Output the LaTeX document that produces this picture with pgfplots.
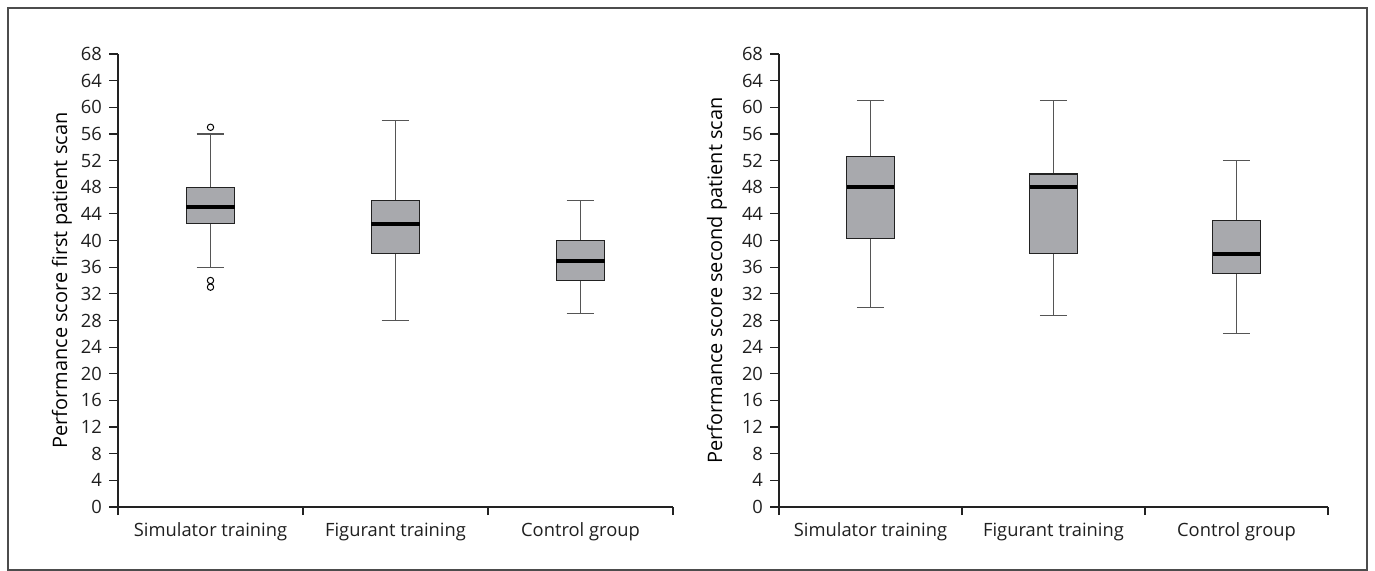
\documentclass[border=0pt]{standalone}
\usepackage{fontspec}
\setmainfont{Open Sans}
\usepackage{pgfplots}
\pgfplotsset{compat=1.18}
\usepgfplotslibrary{statistics}
\definecolor{boxgray}{HTML}{A8A9AD}
\definecolor{axgray}{HTML}{222222}
\definecolor{whgray}{HTML}{555555}
\pgfplotsset{
  mybox/.style={
    scale only axis,
    height=226.5bp,
    xmin=0.5, xmax=3.5, ymin=0, ymax=68,
    axis lines=left,
    axis line style={-, axgray, line width=0.6bp},
    tick align=outside,
    xtick={1,2,3},
    xticklabels={Simulator training, Figurant training, Control group},
    minor xtick={0.5,1.5,2.5,3.5},
    major x tick style={draw=none},
    minor x tick style={axgray, line width=0.6bp},
    minor tick length=4bp,
    ytick={0,4,...,68},
    y tick style={axgray, line width=0.6bp},
    major tick length=4.5bp,
    tick label style={font=\fontsize{9.2}{11}\selectfont, text=black!88},
    label style={font=\fontsize{9}{11}\selectfont, text=black!88},
    /pgf/number format/assume math mode=true,
    boxplot/draw direction=y,
    boxplot/box extend=0.26,
    boxplot/whisker extend=0.15,
    boxplot/every box/.style={draw=axgray, fill=boxgray, line width=0.6bp},
    boxplot/every whisker/.style={whgray, line width=0.6bp},
    boxplot/every median/.style={black, line width=2bp},
    clip=false,
  },
  outl/.style={mark=o, mark size=1.6bp, mark options={black, line width=0.5bp, fill=white}},
}
\begin{document}
\begin{tikzpicture}
\useasboundingbox (0,0) rectangle (687.5bp,285.5bp);
\draw[black!70, line width=0.6bp] (4bp,0.5bp) rectangle (683.5bp,281.5bp);
\begin{axis}[mybox, width=277.5bp, at={(59bp,32bp)}, anchor=south west,
  ylabel={Performance score first patient scan},
  every axis y label/.style={at={(axis description cs:-0.101,0.5)}, rotate=90, anchor=center}]
\addplot[outl, boxplot prepared={draw position=1, lower whisker=36, lower quartile=42.5, median=45, upper quartile=48, upper whisker=56}]
  table[row sep=\\, y index=0] {57\\ 34\\ 33\\};
\addplot[outl, boxplot prepared={draw position=2, lower whisker=28, lower quartile=38, median=42.5, upper quartile=46, upper whisker=58}]
  coordinates {};
\addplot[outl, boxplot prepared={draw position=3, lower whisker=29, lower quartile=34, median=37, upper quartile=40, upper whisker=46}]
  coordinates {};
\end{axis}
\begin{axis}[mybox, width=274.5bp, at={(389.5bp,32bp)}, anchor=south west,
  ylabel={Performance score second patient scan},
  every axis y label/.style={at={(axis description cs:-0.113,0.5)}, rotate=90, anchor=center}]
\addplot[outl, boxplot prepared={draw position=1, lower whisker=30, lower quartile=40.3, median=48, upper quartile=52.6, upper whisker=61}]
  coordinates {};
\addplot[outl, boxplot prepared={draw position=2, lower whisker=28.8, lower quartile=38, median=48, upper quartile=50, upper whisker=61}]
  coordinates {};
\addplot[outl, boxplot prepared={draw position=3, lower whisker=26, lower quartile=35, median=38, upper quartile=43, upper whisker=52}]
  coordinates {};
\end{axis}
\end{tikzpicture}
\end{document}
